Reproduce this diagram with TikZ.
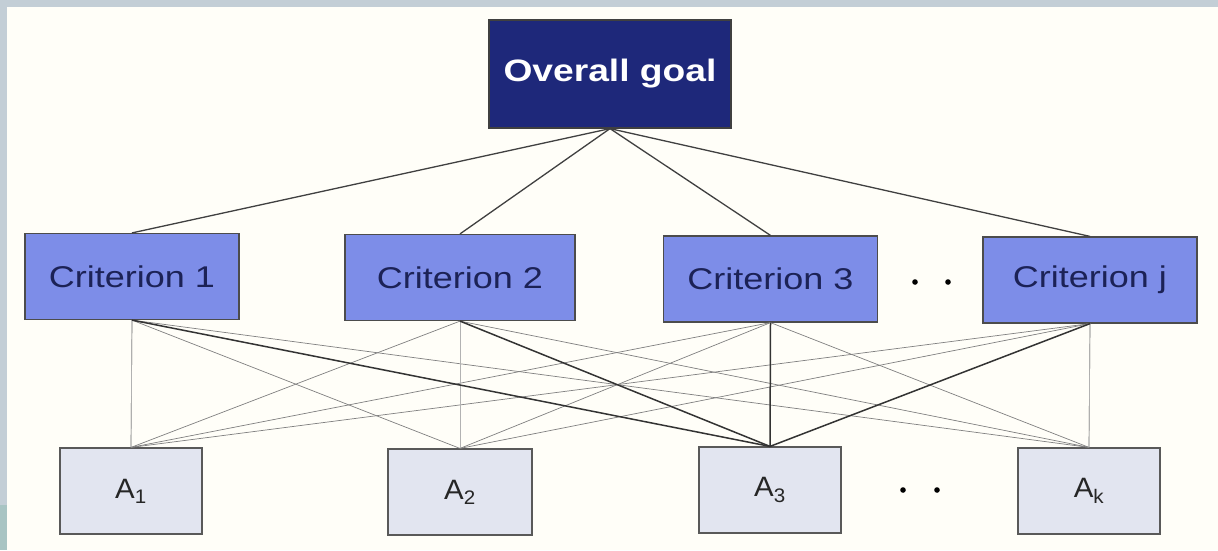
\documentclass[tikz,border=0pt]{standalone}
\usepackage{fontspec}
\setmainfont{Liberation Sans}
\newfontfamily\widefont[FakeStretch=1.2]{Liberation Sans}
\newfontfamily\altfont[FakeStretch=1.05]{Liberation Sans}
\usetikzlibrary{positioning}
\definecolor{goalblue}{RGB}{30,40,122}
\definecolor{critblue}{RGB}{125,141,232}
\definecolor{critink}{RGB}{28,34,86}
\definecolor{altgray}{RGB}{226,229,240}
\definecolor{paper}{RGB}{255,254,248}
\definecolor{frameband}{RGB}{195,206,214}
\definecolor{frametail}{RGB}{168,196,195}
\tikzset{
  goalbox/.style={draw=black!75, line width=1.2pt, fill=goalblue, text=white,
    minimum width=242pt, minimum height=108pt, inner sep=0pt,
    font=\widefont\bfseries\fontsize{31}{31}\selectfont},
  critbox/.style={draw=black!70, line width=1.2pt, fill=critblue, text=critink,
    minimum width=214pt, minimum height=86pt, inner sep=0pt,
    font=\widefont\fontsize{30}{30}\selectfont},
  altbox/.style={draw=black!65, line width=1.2pt, fill=altgray, text=black!85,
    minimum width=142pt, minimum height=86pt, inner sep=0pt,
    font=\altfont\fontsize{28}{28}\selectfont},
  goalline/.style={draw=black!75, line width=1.3pt},
  thinline/.style={draw=black!50, line width=0.7pt},
  plumbline/.style={draw=black!30, line width=0.7pt},
  heavyline/.style={draw=black!80, line width=1.5pt}
}
\begin{document}
\begin{tikzpicture}[x=1pt,y=-1pt]
\useasboundingbox (0,0) rectangle (1218,550);
\fill[paper] (0,0) rectangle (1218,550);
\fill[frameband] (0,0) rectangle (1218,7);
\fill[frameband] (0,0) rectangle (7,550);
\fill[frametail] (0,505) rectangle (7,550);
% levels
\node[goalbox] (goal) at (610,74) {Overall goal};
\node[critbox] (c1) at (132,276.5) {Criterion 1};
\node[critbox, minimum width=230pt] (c2) at (460,277.5) {Criterion 2};
\node[critbox] (c3) at (770.5,279) {Criterion 3};
\node[critbox] (cj) at (1090,280) {Criterion j};
\node[altbox] (a1) at (131,491) {A\textsubscript{1}};
\node[altbox, minimum width=144pt] (a2) at (460,492) {A\textsubscript{2}};
\node[altbox] (a3) at (770,490) {A\textsubscript{3}};
\node[altbox] (ak) at (1089,491) {A\textsubscript{k}};
% dots
\foreach \x in {915,948} \fill (\x,282) circle (2.8);
\foreach \x in {903,937} \fill (\x,490) circle (2.8);
% links
\foreach \c in {c1,c2,c3,cj} \draw[goalline] (goal.south) -- (\c.north);
\foreach \c in {c1,c2,c3,cj} {
  \foreach \a in {a1,a2,ak} \draw[thinline] (\c.south) -- (\a.north);
}
\draw[plumbline] (c1.south) -- (a1.north);
\draw[plumbline] (c2.south) -- (a2.north);
\draw[plumbline] (cj.south) -- (ak.north);
\foreach \c in {c1,c2,c3,cj} \draw[heavyline] (\c.south) -- (a3.north);
\end{tikzpicture}
\end{document}
